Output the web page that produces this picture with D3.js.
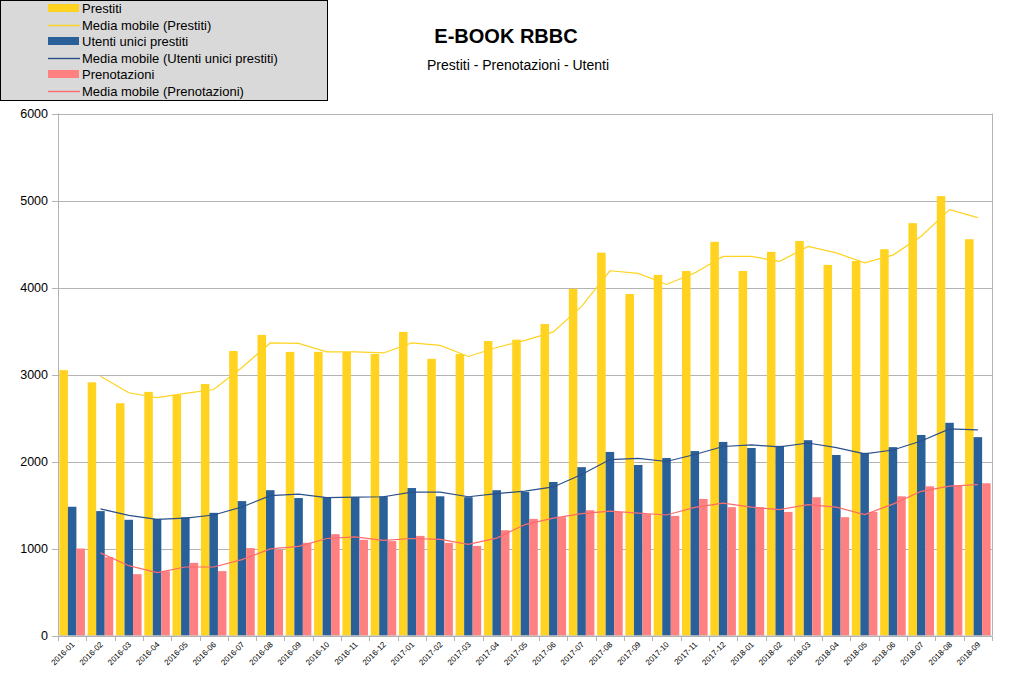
<!DOCTYPE html>
<html>
<head>
<meta charset="utf-8">
<script src="https://cdn.jsdelivr.net/npm/d3@7"></script>
<style>
  body { margin: 0; background: #fff; }
  svg { display: block; font-family: "Liberation Sans", Arial, sans-serif; }
</style>
</head>
<body>
<svg id="chart" width="1012" height="684"></svg>
<script>
const months = ["2016-01","2016-02","2016-03","2016-04","2016-05","2016-06","2016-07","2016-08","2016-09","2016-10","2016-11","2016-12",
  "2017-01","2017-02","2017-03","2017-04","2017-05","2017-06","2017-07","2017-08","2017-09","2017-10","2017-11","2017-12",
  "2018-01","2018-02","2018-03","2018-04","2018-05","2018-06","2018-07","2018-08","2018-09"];
const prestiti = [3050,2910,2670,2800,2765,2890,3270,3455,3260,3260,3260,3235,
  3490,3180,3235,3385,3400,3580,3985,4400,3925,4145,4190,4525,
  4190,4410,4535,4260,4305,4440,4740,5050,4555];
const utenti = [1480,1430,1330,1340,1360,1410,1545,1670,1580,1590,1590,1600,
  1695,1600,1590,1670,1650,1765,1935,2110,1960,2040,2120,2225,
  2155,2180,2245,2075,2100,2165,2305,2445,2280];
const prenotazioni = [1000,900,705,740,835,740,1005,985,1065,1165,1100,1085,
  1145,1065,1030,1210,1340,1360,1440,1420,1395,1375,1570,1475,
  1475,1420,1590,1360,1420,1600,1715,1720,1750];
const yTicks = [0,1000,2000,3000,4000,5000,6000];
const seriesNames = ["Prestiti","Utenti unici prestiti","Prenotazioni"];
const maNames = ["Media mobile (Prestiti)","Media mobile (Utenti unici prestiti)","Media mobile (Prenotazioni)"];

const barColors = ["#ffd320","#2a6099","#ff8080"];
const lineColors = ["#ffd320","#2a4f8a","#ff6b6b"];

const svg = d3.select("#chart");
const x0 = 58, x1 = 992, yTop = 113.5, yBot = 635.5;

const x = d3.scaleBand().domain(months).range([x0, x1]).paddingInner(0).paddingOuter(0);
const xs = d3.scaleBand().domain([0,1,2]).range([0, x.bandwidth()]).paddingOuter(0.16).paddingInner(0);
const y = d3.scaleLinear().domain([0, 6000]).range([yBot, yTop]);

// gridlines
svg.append("g").selectAll("line").data(yTicks).join("line")
  .attr("x1", x0 - 6).attr("x2", x1)
  .attr("y1", d => Math.round(y(d)) + 0.5).attr("y2", d => Math.round(y(d)) + 0.5)
  .attr("stroke", "#b3b3b3").attr("stroke-width", 1);

// y axis labels
svg.append("g").selectAll("text").data(yTicks).join("text")
  .attr("x", x0 - 10).attr("y", d => y(d) + 4.5)
  .attr("text-anchor", "end").attr("font-size", 12.5).attr("fill", "#000")
  .text(d => d);

// axis lines
svg.append("line").attr("x1", x0 + 0.5).attr("x2", x0 + 0.5).attr("y1", yTop).attr("y2", yBot)
  .attr("stroke", "#b3b3b3");
svg.append("line").attr("x1", x1 + 0.5).attr("x2", x1 + 0.5).attr("y1", yTop).attr("y2", yBot)
  .attr("stroke", "#b3b3b3");

// bars
const data = [prestiti, utenti, prenotazioni];
data.forEach((vals, si) => {
  svg.append("g").selectAll("rect").data(vals).join("rect")
    .attr("x", (d, i) => x(months[i]) + xs(si))
    .attr("width", xs.bandwidth())
    .attr("y", d => y(d))
    .attr("height", d => yBot - y(d))
    .attr("fill", barColors[si]);
});

// x axis with ticks
const xAxisG = svg.append("g").attr("transform", `translate(0,${yBot + 0.5})`);
xAxisG.append("line").attr("x1", x0).attr("x2", x1).attr("stroke", "#b3b3b3");
xAxisG.selectAll("line.tk").data(months.concat(["end"])).join("line").attr("class", "tk")
  .attr("x1", (d, i) => Math.round(x0 + i * x.bandwidth()) + 0.5)
  .attr("x2", (d, i) => Math.round(x0 + i * x.bandwidth()) + 0.5)
  .attr("y1", 0).attr("y2", 5).attr("stroke", "#b3b3b3");
xAxisG.selectAll("text").data(months).join("text")
  .attr("transform", d => `translate(${x(d) + x.bandwidth() / 2 + 3},${9}) rotate(-45)`)
  .attr("text-anchor", "end").attr("font-size", 8).attr("fill", "#000")
  .text(d => d);

// moving averages (2 periods)
const line = d3.line().x(d => x(d.m) + x.bandwidth() / 2).y(d => y(d.v));
data.forEach((vals, si) => {
  const ma = [];
  for (let i = 1; i < vals.length; i++) ma.push({m: months[i], v: (vals[i] + vals[i - 1]) / 2});
  svg.append("path").datum(ma).attr("d", line)
    .attr("fill", "none").attr("stroke", lineColors[si]).attr("stroke-width", 1.2);
});

// title
svg.append("text").attr("x", 506).attr("y", 43).attr("text-anchor", "middle")
  .attr("font-size", 20).attr("font-weight", "bold").text("E-BOOK RBBC");
svg.append("text").attr("x", 518).attr("y", 70).attr("text-anchor", "middle")
  .attr("font-size", 14).text("Prestiti - Prenotazioni - Utenti");

// legend
const lg = svg.append("g");
lg.append("rect").attr("x", 0.5).attr("y", 0.5).attr("width", 327).attr("height", 100)
  .attr("fill", "#d9d9d9").attr("stroke", "#000").attr("stroke-width", 1);
const items = [];
seriesNames.forEach((n, i) => {
  items.push({name: n, type: "bar", color: barColors[i]});
  items.push({name: maNames[i], type: "line", color: lineColors[i]});
});
items.forEach((it, i) => {
  const cy = Math.round(8 + i * 16.6) + 0.5;
  if (it.type === "bar") {
    lg.append("rect").attr("x", 48).attr("y", cy - 4.5).attr("width", 31).attr("height", 8).attr("fill", it.color);
  } else {
    lg.append("line").attr("x1", 48).attr("x2", 80).attr("y1", cy).attr("y2", cy)
      .attr("stroke", it.color).attr("stroke-width", 1.4);
  }
  lg.append("text").attr("x", 82).attr("y", cy + 4.5).attr("font-size", 13).text(it.name);
});
</script>
</body>
</html>
